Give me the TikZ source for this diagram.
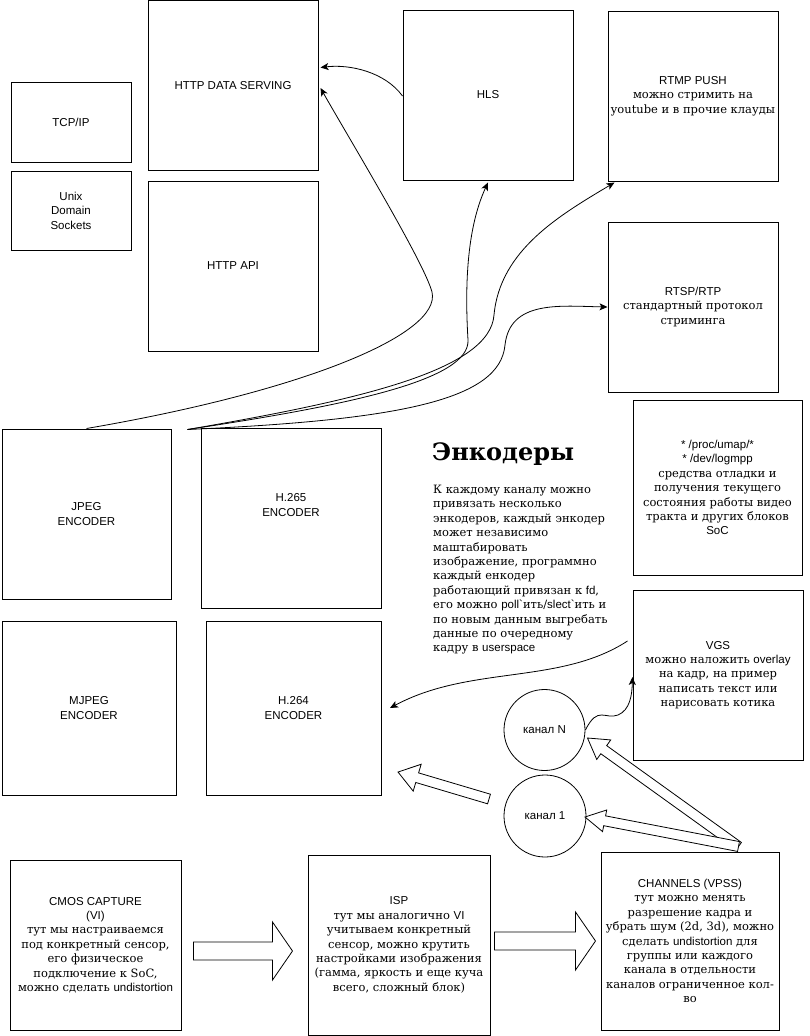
\documentclass[tikz,border=0pt]{standalone}
\usepackage{fontspec}
\setmainfont{DejaVu Serif}
\setsansfont{Liberation Sans}
\usetikzlibrary{calc,arrows.meta}
\newcommand\la[1]{{\sffamily #1}}
\newcommand\cy[1]{{\rmfamily #1}}
\newcommand\blockarrow[5]{%
  \coordinate (bah) at ($(#2)!#5!(#1)$);
  \draw[blockarr] ($(#1)!#3!90:(#2)$) -- ($(bah)!#3!90:(#2)$) -- ($(bah)!#4!90:(#2)$) -- (#2)
     -- ($(bah)!#4!-90:(#2)$) -- ($(bah)!#3!-90:(#2)$) -- ($(#1)!#3!-90:(#2)$) -- cycle;}
\begin{document}
\begin{tikzpicture}[x=1pt,y=-1pt,
  box/.style={draw, line width=1pt, align=center, inner sep=0pt,
    font=\fontsize{11.5}{14.4}\selectfont\sffamily},
  boxtext/.style={align=center, inner sep=0pt,
    font=\fontsize{11.5}{14.4}\selectfont\sffamily},
  ring/.style={draw, line width=0.8pt, circle, inner sep=0pt, align=center,
    font=\fontsize{11.5}{14.4}\selectfont\sffamily},
  link/.style={line width=0.8pt, -{Stealth[length=8pt,width=7pt,inset=2pt]}},
  blockarr/.style={draw, line width=0.8pt, fill=white, line join=miter}]
\useasboundingbox (0,0) rectangle (809,1036);

% boxes
\node[box, minimum width=170pt, minimum height=170pt] (httpdata) at (233,85.5) {HTTP DATA SERVING};
\node[box, minimum width=170pt, minimum height=170pt] (httpapi) at (233,266) {HTTP API};
\node[box, minimum width=120pt, minimum height=80pt] (tcp) at (71,122) {TCP/IP};
\node[box, minimum width=120pt, minimum height=79pt] (unix) at (71,210.5) {Unix\\Domain\\Sockets};
\node[box, minimum width=170pt, minimum height=170pt] (hls) at (488,95) {HLS};
\node[box, minimum width=170pt, minimum height=170pt] (rtmp) at (693,96)
  {RTMP PUSH\\\cy{можно стримить на}\\\cy{youtube и в прочие клауды}};
\node[box, minimum width=170pt, minimum height=170pt] (rtsp) at (693,307)
  {RTSP/RTP\\\cy{стандартный протокол}\\\cy{стриминга}};
\node[box, minimum width=169pt, minimum height=170pt] (jpeg) at (86.5,514) {JPEG\\ENCODER};
\node[box, minimum width=180pt, minimum height=180pt,
  label={[boxtext, yshift=13pt]center:{H.265\\ENCODER}}] (h265) at (291,518) {};
\node[box, minimum width=174pt, minimum height=174pt] (mjpeg) at (89,708) {MJPEG\\ENCODER};
\node[box, minimum width=175pt, minimum height=174pt] (h264) at (293.5,708) {H.264\\ENCODER};
\node[box, minimum width=169pt, minimum height=175pt] (dbg) at (717.5,487.5)
  {* /proc/umap/*\\* /dev/logmpp\\\cy{средства отладки и}\\\cy{получения текущего}\\\cy{состояния работы видео}\\\cy{тракта и других блоков}\\SoC};
\node[box, minimum width=170pt, minimum height=170pt] (vgs) at (718,675)
  {VGS\\\cy{можно наложить \la{overlay}}\\\cy{на кадр, на пример}\\\cy{написать текст или}\\\cy{нарисовать котика}};
\node[ring, minimum size=81pt] (kanN) at (544.5,730) {канал N};
\node[ring, minimum size=82pt] (kan1) at (545,816) {канал 1};
\node[box, minimum width=171pt, minimum height=170pt] (cmos) at (95.5,945)
  {CMOS CAPTURE\\(VI)\\\cy{тут мы настраиваемся}\\\cy{под конкретный сенсор,}\\\cy{его физическое}\\\cy{подключение к SoC,}\\\cy{можно сделать \la{undistortion}}};
\node[box, minimum width=182pt, minimum height=180pt] (isp) at (399,945)
  {ISP\\\cy{тут мы аналогично \la{VI}}\\\cy{учитываем конкретный}\\\cy{сенсор, можно крутить}\\\cy{настройками изображения}\\\cy{(гамма, яркость и еще куча}\\\cy{всего, сложный блок)}};
\node[box, minimum width=178pt, minimum height=178pt] (channels) at (690,941)
  {CHANNELS (VPSS)\\\cy{тут можно менять}\\\cy{разрешение кадра и}\\\cy{убрать шум (2d, 3d), можно}\\\cy{сделать \la{undistortion} для}\\\cy{группы или каждого}\\\cy{канала в отдельности}\\\cy{каналов ограниченное кол-}\\\cy{во}};

% heading and text
\node[anchor=west, inner sep=0pt, font=\bfseries\fontsize{24}{28}\selectfont] (head) at (432,454) {Энкодеры};
\node[anchor=north west, align=left, inner sep=0pt, font=\fontsize{11.5}{14.4}\selectfont] (para) at (433,485)
  {К каждому каналу можно\\привязать несколько\\энкодеров, каждый энкодер\\может независимо\\маштабировать\\изображение, программно\\каждый енкодер\\работающий привязан к \la{fd},\\его можно \la{poll\textasciigrave}ить/\la{slect\textasciigrave}ить и\\по новым данным выгребать\\данные по очередному\\кадру в \la{userspace}};

% connectors
\coordinate (hsrc) at ([xshift=-13pt,yshift=-2pt]h265.north west);
\draw[link] ([yshift=-1pt]hls.west) .. controls (385,72) and (350,64) .. ([xshift=2pt,yshift=18pt]httpdata.east);
\draw[link] (jpeg.north) .. controls (300,392) and (442,335) .. (432,292)
  .. controls (424,262) and (350,140) .. ([xshift=2pt,yshift=-2.5pt]httpdata.east);
\draw[link] (hsrc) .. controls (350,405) and (470,380) .. (468,340)
  .. controls (465,290) and (466,230) .. ([yshift=-2pt]hls.south);
\draw[link] (hsrc) .. controls (360,400) and (490,370) .. (494,315)
  .. controls (500,250) and (560,215) .. ([xshift=7pt,yshift=-1pt]rtmp.south west);
\draw[link] (hsrc) .. controls (400,420) and (500,400) .. (505,345)
  .. controls (510,300) and (560,306) .. (rtsp.west);
\draw[link] ([xshift=-5pt,yshift=34pt]vgs.west) .. controls (560,685) and (470,665) .. ([xshift=8.5pt]h264.east);
\draw[link] (kanN.east) .. controls (598,705) and (605,720) .. (618,715)
  .. controls (630,710) and (632,695) .. ([yshift=-2pt]vgs.west);

% block arrows
\coordinate (ca1) at ([xshift=12pt,yshift=-6pt]cmos.east);
\coordinate (ca2) at ([xshift=-15pt,yshift=-6pt]isp.west);
\blockarrow{ca1}{ca2}{9pt}{29pt}{20pt}
\coordinate (ib1) at ([xshift=4pt]isp.east |- channels.west);
\coordinate (ib2) at ([xshift=-5pt]channels.west);
\blockarrow{ib1}{ib2}{9pt}{29pt}{20pt}
\coordinate (cn1) at ([xshift=-41pt,yshift=5pt]channels.north east);
\coordinate (cn2) at ($(kanN.center)+(43,8)$);
\blockarrow{cn1}{cn2}{5pt}{12pt}{20pt}
\coordinate (ck2) at ($(kan1.center)+(40,1)$);
\blockarrow{cn1}{ck2}{5pt}{11pt}{20pt}
\coordinate (fr1) at (489,799);
\coordinate (fr2) at (398,772);
\blockarrow{fr1}{fr2}{5pt}{14pt}{20pt}
\end{tikzpicture}
\end{document}
